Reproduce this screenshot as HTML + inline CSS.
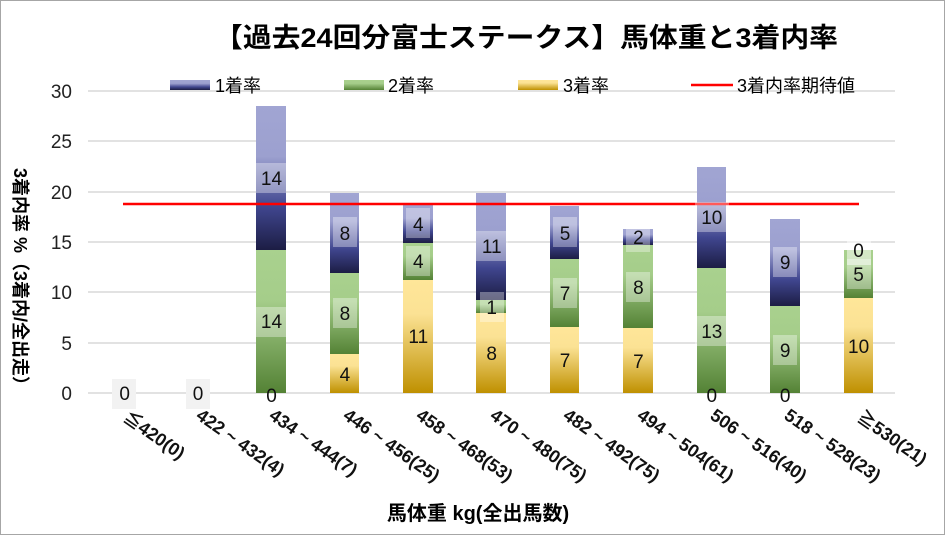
<!DOCTYPE html>
<html><head><meta charset="utf-8"><style>
body{margin:0;background:#fff}
svg{display:block;font-family:"Liberation Sans","Noto Sans CJK JP",sans-serif}
</style></head><body>
<svg width="946" height="536" viewBox="0 0 946 536" xmlns="http://www.w3.org/2000/svg">
<defs>
<linearGradient id="gb" x1="0" y1="0" x2="0" y2="1"><stop offset="0" stop-color="#a1a5d3"/><stop offset="0.35" stop-color="#9ca0cf"/><stop offset="0.7" stop-color="#40468f"/><stop offset="1" stop-color="#1c1d44"/></linearGradient>
<linearGradient id="gg" x1="0" y1="0" x2="0" y2="1"><stop offset="0" stop-color="#a9d18e"/><stop offset="0.35" stop-color="#a5cd8a"/><stop offset="1" stop-color="#548235"/></linearGradient>
<linearGradient id="gy" x1="0" y1="0" x2="0" y2="1"><stop offset="0" stop-color="#ffe699"/><stop offset="0.3" stop-color="#fbe294"/><stop offset="1" stop-color="#bf9000"/></linearGradient>
</defs>
<rect x="0.5" y="0.5" width="944" height="534" fill="#fff" stroke="#a6a6a6"/>
<text x="526" y="47" text-anchor="middle" font-size="27" font-weight="bold" textLength="624" lengthAdjust="spacingAndGlyphs">【過去24回分富士ステークス】馬体重と3着内率</text>
<g stroke="#d9d9d9" stroke-width="1.5">
<line x1="88" x2="895" y1="393" y2="393"/><line x1="88" x2="895" y1="343" y2="343"/><line x1="88" x2="895" y1="292" y2="292"/><line x1="88" x2="895" y1="242" y2="242"/><line x1="88" x2="895" y1="192" y2="192"/><line x1="88" x2="895" y1="141" y2="141"/><line x1="88" x2="895" y1="91" y2="91"/>
</g>
<g font-size="19" text-anchor="end" fill="#222">
<text x="72" y="400">0</text><text x="72" y="350">5</text><text x="72" y="299">10</text><text x="72" y="249">15</text><text x="72" y="199">20</text><text x="72" y="148">25</text><text x="72" y="98">30</text>
</g>
<text x="0" y="0" font-size="18" font-weight="bold" transform="translate(14,168) rotate(90)">3着内率 %（3着内/全出走）</text>
<rect x="170" y="80" width="40" height="10" fill="url(#gb)"/><text x="215" y="92" font-size="18">1着率</text>
<rect x="344" y="80" width="40" height="10" fill="url(#gg)"/><text x="388" y="92" font-size="18">2着率</text>
<rect x="518" y="80" width="40" height="10" fill="url(#gy)"/><text x="563" y="92" font-size="18">3着率</text>
<line x1="691" x2="733" y1="85" y2="85" stroke="#f00" stroke-width="2.5"/><text x="737" y="92" font-size="18">3着内率期待値</text>
<g>
<rect x="256" y="250" width="30" height="143" fill="url(#gg)"/><rect x="256" y="106" width="30" height="144" fill="url(#gb)"/>
<rect x="330" y="354" width="29" height="39" fill="url(#gy)"/><rect x="330" y="273" width="29" height="81" fill="url(#gg)"/><rect x="330" y="193" width="29" height="80" fill="url(#gb)"/>
<rect x="403" y="280" width="30" height="113" fill="url(#gy)"/><rect x="403" y="243" width="30" height="37" fill="url(#gg)"/><rect x="403" y="205" width="30" height="38" fill="url(#gb)"/>
<rect x="476" y="313" width="30" height="80" fill="url(#gy)"/><rect x="476" y="300" width="30" height="13" fill="url(#gg)"/><rect x="476" y="193" width="30" height="107" fill="url(#gb)"/>
<rect x="550" y="327" width="29" height="66" fill="url(#gy)"/><rect x="550" y="259" width="29" height="68" fill="url(#gg)"/><rect x="550" y="206" width="29" height="53" fill="url(#gb)"/>
<rect x="623" y="328" width="30" height="65" fill="url(#gy)"/><rect x="623" y="245" width="30" height="83" fill="url(#gg)"/><rect x="623" y="229" width="30" height="16" fill="url(#gb)"/>
<rect x="697" y="268" width="29" height="125" fill="url(#gg)"/><rect x="697" y="167" width="29" height="101" fill="url(#gb)"/>
<rect x="770" y="306" width="30" height="87" fill="url(#gg)"/><rect x="770" y="219" width="30" height="87" fill="url(#gb)"/>
<rect x="844" y="298" width="29" height="95" fill="url(#gy)"/><rect x="844" y="250" width="29" height="48" fill="url(#gg)"/>
</g>
<line x1="123" x2="859" y1="204" y2="204" stroke="#f00" stroke-width="2.5"/>
<g font-size="19" text-anchor="middle" fill="#111">
<rect x="112" y="379" width="24" height="30" fill="#f2f2f2"/><text x="124.7" y="400">0</text>
<rect x="186" y="379" width="24" height="30" fill="#f2f2f2"/><text x="198" y="400">0</text>
<text x="271.5" y="402">0</text>
<rect x="256" y="307" width="30" height="30" fill="#fff" fill-opacity="0.35"/><text x="271.5" y="328">14</text>
<rect x="256" y="163" width="30" height="30" fill="#fff" fill-opacity="0.35"/><text x="271.5" y="185">14</text>
<text x="344.9" y="381">4</text>
<rect x="333" y="298" width="24" height="30" fill="#fff" fill-opacity="0.35"/><text x="344.9" y="320">8</text>
<rect x="333" y="217" width="24" height="30" fill="#fff" fill-opacity="0.35"/><text x="344.9" y="240">8</text>
<text x="418.3" y="343">11</text>
<rect x="406" y="246" width="24" height="30" fill="#fff" fill-opacity="0.35"/><text x="418.3" y="268">4</text>
<rect x="406" y="208" width="24" height="30" fill="#fff" fill-opacity="0.35"/><text x="418.3" y="231">4</text>
<text x="491.7" y="360">8</text>
<rect x="480" y="292" width="24" height="30" fill="#fff" fill-opacity="0.35"/><text x="491.7" y="314">1</text>
<rect x="476" y="231" width="32" height="30" fill="#fff" fill-opacity="0.35"/><text x="491.7" y="253">11</text>
<text x="565" y="367">7</text>
<rect x="553" y="278" width="24" height="30" fill="#fff" fill-opacity="0.35"/><text x="565" y="300">7</text>
<rect x="553" y="217" width="24" height="30" fill="#fff" fill-opacity="0.35"/><text x="565" y="240">5</text>
<text x="638.4" y="368">7</text>
<rect x="626" y="272" width="24" height="30" fill="#fff" fill-opacity="0.35"/><text x="638.4" y="294">8</text>
<rect x="626" y="222" width="24" height="30" fill="#fff" fill-opacity="0.35"/><text x="638.4" y="244">2</text>
<text x="711.8" y="402">0</text>
<rect x="695" y="316" width="34" height="30" fill="#fff" fill-opacity="0.35"/><text x="711.8" y="338">13</text>
<rect x="695" y="202" width="34" height="30" fill="#fff" fill-opacity="0.35"/><text x="711.8" y="224">10</text>
<text x="785.2" y="402">0</text>
<rect x="773" y="335" width="24" height="30" fill="#fff" fill-opacity="0.35"/><text x="785.2" y="357">9</text>
<rect x="773" y="247" width="24" height="30" fill="#fff" fill-opacity="0.35"/><text x="785.2" y="269">9</text>
<text x="858.6" y="353">10</text>
<rect x="847" y="259" width="24" height="30" fill="#fff" fill-opacity="0.35"/><text x="858.6" y="281">5</text>
<rect x="847" y="235" width="24" height="30" fill="#fff" fill-opacity="0.5"/><text x="858.6" y="257">0</text>
</g>
<g font-size="18" font-weight="bold" fill="#111">
<text transform="translate(122,420) rotate(35)">≦420(0)</text>
<text transform="translate(195,418) rotate(35)">422 ~ 432(4)</text>
<text transform="translate(268,418) rotate(35)">434 ~ 444(7)</text>
<text transform="translate(342,418) rotate(35)">446 ~ 456(25)</text>
<text transform="translate(415,418) rotate(35)">458 ~ 468(53)</text>
<text transform="translate(489,418) rotate(35)">470 ~ 480(75)</text>
<text transform="translate(562,418) rotate(35)">482 ~ 492(75)</text>
<text transform="translate(636,418) rotate(35)">494 ~ 504(61)</text>
<text transform="translate(709,418) rotate(35)">506 ~ 516(40)</text>
<text transform="translate(783,418) rotate(35)">518 ~ 528(23)</text>
<text transform="translate(856,420) rotate(35)">≧530(21)</text>
</g>
<text x="478" y="520" font-size="20" font-weight="bold" text-anchor="middle">馬体重 kg(全出馬数)</text>
</svg>
</body></html>
